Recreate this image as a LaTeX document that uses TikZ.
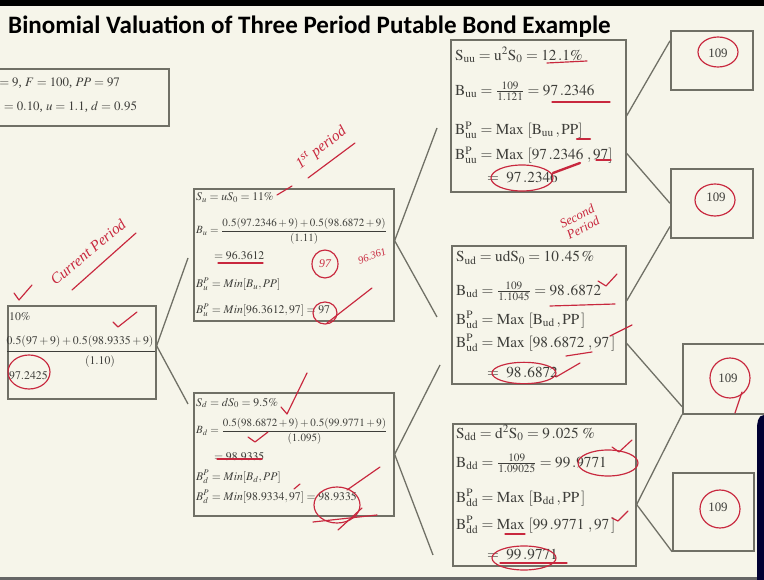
\documentclass[tikz,border=0pt]{standalone}
\usepackage{amsmath}
\usepackage{mathptmx}
\usepackage{fontspec}
\setmainfont{Liberation Serif}
\newfontfamily\titlefont{Carlito}
\definecolor{paper}{RGB}{246,245,234}
\definecolor{frame}{RGB}{112,112,102}
\definecolor{ink}{RGB}{62,62,58}
\definecolor{pen}{RGB}{200,40,62}
\tikzset{
  box/.style={draw=frame, line width=1.4pt, anchor=north west, inner sep=0pt},
  link/.style={draw=frame, line width=1.1pt},
  txt/.style={anchor=west, inner sep=0pt, text=ink, font=\fontsize{10}{12}\selectfont},
  big/.style={txt, font=\fontsize{13}{15}\selectfont},
  redpen/.style={draw=pen, line width=1pt, line cap=round, line join=round},
  note/.style={text=pen, inner sep=0pt, font=\itshape\fontsize{13}{13}\selectfont}
}
\begin{document}
\begin{tikzpicture}[x=0.3mm, y=-0.3mm]
\useasboundingbox (0,0) rectangle (764,580);
\clip (0,0) rectangle (764,580);
\fill[paper] (0,0) rectangle (764,580);
\fill[black] (0,0) rectangle (764,6);
\fill[black!60] (0,577) rectangle (764,580);
\fill[black!80!blue] (757,580) -- (757,430) to[out=90,in=180] (764,415) -- (764,580) -- cycle;

% title
\node[anchor=base west, inner sep=0pt, text=black,
  font=\titlefont\bfseries\fontsize{21.4}{25}\selectfont] (title) at (8,34)
  {Binomial Valuation of Three Period Putable Bond Example};

% inputs
\node[box, minimum width=56.4mm, minimum height=17.1mm] (par) at (-20,68) {};
\node[txt, font=\fontsize{11}{13}\selectfont] (par1) at (-12,83) {$C = 9$, $F = 100$, $PP = 97$};
\node[txt, font=\fontsize{11}{13}\selectfont] (par2) at (-11,107) {$S_0 = 0.10$, $u = 1.1$, $d = 0.95$};

% today
\node[box, minimum width=44.4mm, minimum height=27.9mm] (root) at (7,305) {};
\node[txt] (r1) at (9,317) {$10\%$};
\node[txt, anchor=center] (r2) at (80,342) {$0.5(97+9)+0.5(98.9335+9)$};
\draw[ink, line width=0.5pt] (7,351) -- (155,351);
\node[txt, anchor=center] (r3) at (100,362) {$(1.10)$};
\node[txt] (r4) at (9,376) {$97.2425$};

% period 1
\node[box, minimum width=60mm, minimum height=39.6mm] (up) at (193,188) {};
\node[txt] (u1) at (196,198) {$S_u = uS_0 = 11\%$};
\node[txt, font=\fontsize{9.4}{11}\selectfont] (u2) at (196,231) {$B_u = \dfrac{0.5(97.2346+9)+0.5(98.6872+9)}{(1.11)}$};
\node[txt] (u3) at (214,256) {$= 96.3612$};
\node[txt] (u4) at (196,284) {$B^P_u = Min[B_u, PP]$};
\node[txt] (u5) at (196,310) {$B^P_u = Min[96.3612, 97] = 97$};

\node[box, minimum width=60mm, minimum height=36.9mm] (down) at (193,392) {};
\node[txt] (d1) at (196,403) {$S_d = dS_0 = 9.5\%$};
\node[txt, font=\fontsize{9.4}{11}\selectfont] (d2) at (196,431) {$B_d = \dfrac{0.5(98.6872+9)+0.5(99.9771+9)}{(1.095)}$};
\node[txt] (d3) at (214,457) {$= 98.9335$};
\node[txt] (d4) at (196,477) {$B^P_d = Min[B_d, PP]$};
\node[txt] (d5) at (196,497) {$B^P_d = Min[98.9334, 97] = 98.9335$};

% period 2
\node[box, minimum width=52.5mm, minimum height=45.6mm] (uu) at (450,39) {};
\node[big] (uu1) at (455,55) {$\mathrm{S_{uu} = u^2S_0 = 12\,.1\%}$};
\node[big] (uu2) at (455,91) {$\mathrm{B_{uu} = \frac{109}{1.121} = 97\,.2346}$};
\node[big] (uu3) at (455,130) {$\mathrm{B^P_{uu} = Max\ [B_{uu}\,, PP]}$};
\node[big] (uu4) at (455,155) {$\mathrm{B^P_{uu} = Max\ [97\,.2346\ ,97]}$};
\node[big] (uu5) at (487,177) {$\mathrm{=\ 97\,.2346}$};

\node[box, minimum width=52.2mm, minimum height=41.4mm] (ud) at (451,245) {};
\node[big] (ud1) at (456,258) {$\mathrm{S_{ud} = udS_0 = 10\,.45\,\%}$};
\node[big] (ud2) at (456,291) {$\mathrm{B_{ud} = \frac{109}{1.1045} = 98\,.6872}$};
\node[big] (ud3) at (456,320) {$\mathrm{B^P_{ud} = Max\ [B_{ud}\,, PP\,]}$};
\node[big] (ud4) at (456,343) {$\mathrm{B^P_{ud} = Max\ [98\,.6872\ , 97\,]}$};
\node[big] (ud5) at (487,372) {$\mathrm{=\ 98\,.6872}$};

\node[box, minimum width=54.9mm, minimum height=42.6mm] (dd) at (452,423) {};
\node[big] (dd1) at (456,433) {$\mathrm{S_{dd} = d^2S_0 = 9\,.025\ \%}$};
\node[big] (dd2) at (456,463) {$\mathrm{B_{dd} = \frac{109}{1.09025} = 99\,.9771}$};
\node[big] (dd3) at (456,498) {$\mathrm{B^P_{dd} = Max\ [B_{dd}\,, PP\,]}$};
\node[big] (dd4) at (456,525) {$\mathrm{B^P_{dd} = Max\ [99\,.9771\ , 97\,]}$};
\node[big] (dd5) at (487,555) {$\mathrm{=\ 99\,.9771}$};

% maturity
\node[box, minimum width=24.6mm, minimum height=17.7mm] (t1) at (670,30) {};
\node[box, minimum width=24.6mm, minimum height=20.7mm] (t2) at (670,168) {};
\node[box, minimum width=25.2mm, minimum height=21mm] (t3) at (682,343) {};
\node[box, minimum width=24.3mm, minimum height=23.4mm] (t4) at (672,472) {};
\node[txt, anchor=center, font=\fontsize{11}{13}\selectfont] (v1) at (718,53) {109};
\node[txt, anchor=center, font=\fontsize{11}{13}\selectfont] (v2) at (716,197) {109};
\node[txt, anchor=center, font=\fontsize{11}{13}\selectfont] (v3) at (728,378) {109};
\node[txt, anchor=center, font=\fontsize{11}{13}\selectfont] (v4) at (718,507) {109};

% tree lines
\coordinate (upIn) at (188,258);
\coordinate (dnIn) at (188,404);
\coordinate (uuIn) at (437,128);
\coordinate (udIn) at (437,317);
\coordinate (udIn2) at (440,365);
\coordinate (ddIn) at (433,555);
\draw[link] (root.5) -- (upIn);
\draw[link] (root.5) -- (dnIn);
\draw[link] (up.8) -- (uuIn);
\draw[link] (up.8) -- (udIn);
\draw[link] (down.east) -- (udIn2);
\draw[link] (down.east) -- (ddIn);
\draw[link] (uu.east) -- (t1.155);
\draw[link] (uu.-23) -- (t2.west);
\draw[link] (ud.9) -- (t2.209);
\draw[link] (ud.-18) -- (t3.213);
\draw[link] (dd.-6) -- (t3.south west);
\draw[link] (dd.-6) -- (t4.south west);

% red pen
\draw[redpen] (14,293) -- (19,300) -- (32,285);
\node[note, rotate=40] (cur) at (88,252) {Current Period};
\draw[redpen] (72,290) -- (136,233);
\draw[redpen] (113,322) -- (118,327) -- (137,312);
\draw[redpen] (29,372) ellipse [x radius=6.3mm, y radius=5.1mm];

\node[note, rotate=38] (first) at (321,148) {1\textsuperscript{st} period};
\draw[redpen] (308,178) -- (355,143);
\draw[redpen] (277,195) -- (292,186);
\draw[redpen] (218,263) -- (263,263);
\draw[redpen] (325,264) ellipse [x radius=3.9mm, y radius=4.2mm];
\node[note, font=\itshape\fontsize{10}{10}\selectfont] (n97) at (325,264) {97};
\node[note, rotate=20, font=\itshape\fontsize{9}{9}\selectfont] (n96) at (372,256) {96.361};
\draw[redpen] (325,313) ellipse [x radius=3.6mm, y radius=3.3mm];
\draw[redpen] (327,323) -- (372,288);

\draw[redpen] (281,407) -- (287,414) -- (307,373);
\draw[redpen] (248,437) -- (255,442) -- (268,432);
\draw[redpen] (217,459) -- (262,459);
\draw[redpen] (294,489) -- (300,484);
\draw[redpen] (337,505) ellipse [x radius=6.9mm, y radius=5.4mm];
\draw[redpen] (347,490) -- (380,467);
\draw[redpen] (313,522) -- (377,515);
\draw[redpen] (338,530) -- (362,508);

\draw[redpen] (547,63) -- (587,61);
\draw[redpen] (552,102) -- (610,102);
\draw[redpen, line width=2pt] (577,139) -- (590,139);
\draw[redpen] (596,160) -- (611,160);
\draw[redpen] (522,178) ellipse [x radius=9.3mm, y radius=3.9mm];
\draw[redpen, line width=2pt] (553,173) -- (580,163);

\node[note, rotate=28, align=center, font=\itshape\fontsize{11}{11}\selectfont] (second) at (580,222) {Second\\Period};
\draw[redpen] (598,281) -- (606,286) -- (617,274);
\draw[redpen] (550,306) -- (615,304);
\draw[redpen] (610,336) -- (632,325);
\draw[redpen] (566,356) -- (592,352);
\draw[redpen] (524,373) ellipse [x radius=9.6mm, y radius=3.2mm];
\draw[redpen] (556,377) -- (580,363);

\draw[redpen] (612,447) -- (619,452) -- (632,440);
\draw[redpen] (608,463) ellipse [x radius=9mm, y radius=3.9mm];
\draw[redpen] (612,518) -- (618,521) -- (628,511);
\draw[redpen] (505,534) -- (525,534);
\draw[redpen] (524,558) ellipse [x radius=9.6mm, y radius=3.6mm];
\draw[redpen] (500,563) -- (567,563);

\draw[redpen] (718,52) ellipse [x radius=6mm, y radius=4.5mm];
\draw[redpen] (715,200) ellipse [x radius=6mm, y radius=4.8mm];
\draw[redpen] (730,378) ellipse [x radius=6mm, y radius=6mm];
\draw[redpen] (742,392) -- (735,413);
\draw[redpen] (720,509) ellipse [x radius=6mm, y radius=5.7mm];
\end{tikzpicture}
\end{document}
